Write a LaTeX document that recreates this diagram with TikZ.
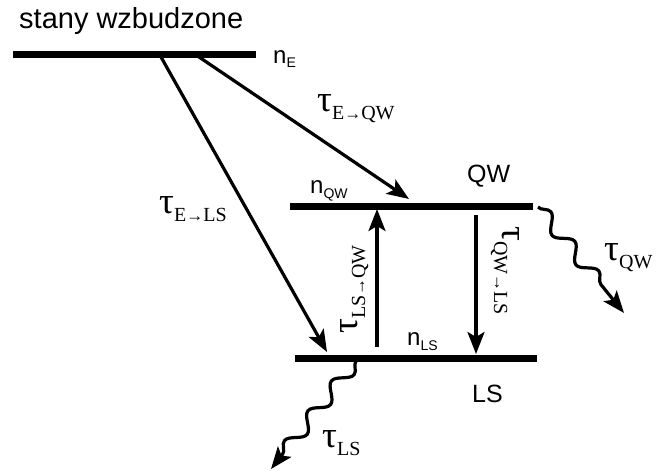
\documentclass[tikz,border=0pt]{standalone}
\usepackage{fontspec}
\setmainfont{Liberation Sans}
\newfontfamily\taufamily{Liberation Serif}
\usetikzlibrary{arrows.meta,decorations.pathmorphing}
\newcommand{\nlab}[1]{{\fontsize{24}{24}\selectfont n}{\fontsize{14}{14}\selectfont\raisebox{-5pt}{#1}}}
\newcommand{\tlab}[1]{{\taufamily\fontsize{37}{37}\selectfont τ}{\taufamily\fontsize{20}{20}\selectfont\raisebox{-8pt}{#1}}}
\newcommand{\tarr}{{\fontsize{17}{17}\selectfont →}}

\begin{document}
\begin{tikzpicture}[x=1pt,y=-1pt,>=Stealth,
  stan/.style={line width=7pt},
  trans/.style={line width=3.2pt,-{Stealth[length=22pt,width=17pt,inset=5pt]}},
  decay/.style={line width=3.2pt,-{Stealth[length=22pt,width=17pt,inset=5pt]},decorate,
    decoration={snake,amplitude=7pt,segment length=38pt,post length=18pt}},
  txt/.style={inner sep=0pt,anchor=base west}]
  \useasboundingbox (0,0) rectangle (659,471);
  % poziomy
  \coordinate (E1) at (13,54);   \coordinate (E2) at (256,54);
  \coordinate (Q1) at (290,206); \coordinate (Q2) at (533,206);
  \coordinate (L1) at (295,358); \coordinate (L2) at (537,358);
  \draw[stan] (E1) -- (E2);
  \draw[stan] (Q1) -- (Q2);
  \draw[stan] (L1) -- (L2);
  % przejscia
  \coordinate (eA) at (161,57);  \coordinate (lsT) at (327,352);
  \coordinate (eB) at (199,57);  \coordinate (qwT) at (409,199);
  \coordinate (upA) at (377,347); \coordinate (upB) at (377,209);
  \coordinate (dnA) at (476,215); \coordinate (dnB) at (476,354);
  \draw[trans] (eA) -- (lsT);
  \draw[trans] (eB) -- (qwT);
  \draw[trans] (upA) -- (upB);
  \draw[trans] (dnA) -- (dnB);
  \coordinate (wq0) at (538,207); \coordinate (wq1) at (624,313);
  \coordinate (wl0) at (356,361); \coordinate (wl1) at (271,469);
  \draw[decay] (wq0) -- (wq1);
  \draw[decay] (wl0) -- (wl1);
  % opisy
  \node[txt] (tit) at (19,28) {\fontsize{29}{29}\selectfont stany wzbudzone};
  \node[txt] (nE) at (273,63) {\nlab{E}};
  \node[txt] (nQW) at (310,193) {\nlab{QW}};
  \node[txt] (nLS) at (407,345) {\nlab{LS}};
  \node[txt] (QW) at (467,182) {\fontsize{25}{25}\selectfont QW};
  \node[txt] (LS) at (472,402) {\fontsize{25}{25}\selectfont LS};
  \node[txt] (tEQW) at (317,111) {\tlab{E\tarr QW}};
  \node[txt] (tELS) at (159,213) {\tlab{E\tarr LS}};
  \node[txt] (tQW) at (604,260) {\tlab{QW}};
  \node[txt] (tLS) at (322,447) {\tlab{LS}};
  \node[txt,rotate=90] (tLSQW) at (357,334) {\tlab{LS\tarr QW}};
  \node[txt,rotate=-90] (tQWLS) at (502,226) {\tlab{QW\tarr LS}};
\end{tikzpicture}
\end{document}
